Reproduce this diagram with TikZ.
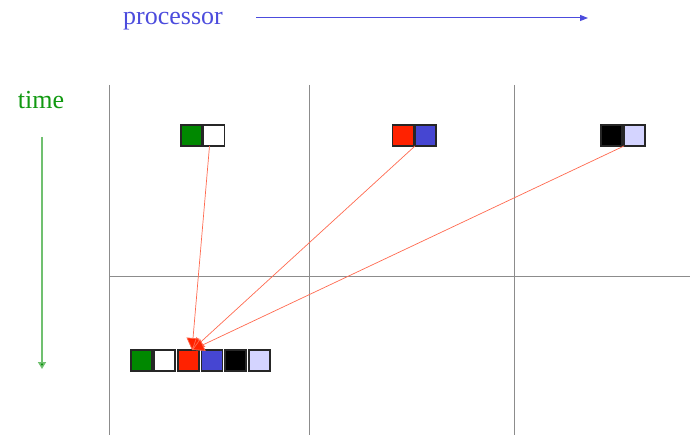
\documentclass[tikz,border=0pt]{standalone}
\usepackage{fontspec}
\setmainfont{Liberation Serif}
\usetikzlibrary{arrows.meta}
\definecolor{cgreen}{HTML}{008800}
\definecolor{cred}{HTML}{FF2200}
\definecolor{cblue}{HTML}{4646D2}
\definecolor{clav}{HTML}{D4D4FF}
\definecolor{pblue}{HTML}{4C4CDD}
\definecolor{tgreen}{HTML}{119911}
\definecolor{lgreen}{HTML}{70C070}
\definecolor{lred}{HTML}{FF6A50}
\tikzset{
  cell/.style={draw=black!85, line width=1.3pt, minimum size=21pt, inner sep=0pt, outer sep=0pt},
  grid/.style={draw=gray!90, line width=0.9pt},
  link/.style={draw=lred, line width=0.7pt, -{Triangle[length=12pt,width=13pt,fill=cred]}},
  lbl/.style={font=\fontsize{26}{30}\selectfont, inner sep=0pt}
}
\begin{document}
\begin{tikzpicture}[x=1pt,y=-1pt]
\useasboundingbox (0,0) rectangle (690,435);
% labels and axes
\node[lbl, text=pblue] (proc) at (173,21) {processor};
\coordinate (pa) at (256,18);
\coordinate (pb) at (588,18);
\draw[pblue, line width=1pt, -{Triangle[length=8pt,width=6pt]}] (pa) -- (pb);
\node[lbl, text=tgreen] (time) at (41,100) {time};
\coordinate (ta) at (42,137);
\coordinate (tb) at (42,369);
\draw[lgreen, line width=1.5pt, -{Triangle[length=7pt,width=8pt,fill=cgreen]}] (ta) -- (tb);
% grid
\coordinate (v1a) at (109,85); \coordinate (v1b) at (109,435);
\coordinate (v2a) at (309,85); \coordinate (v2b) at (309,435);
\coordinate (v3a) at (514,85); \coordinate (v3b) at (514,435);
\coordinate (ha) at (109,276); \coordinate (hb) at (690,276);
\draw[grid] (v1a) -- (v1b);
\draw[grid] (v2a) -- (v2b);
\draw[grid] (v3a) -- (v3b);
\draw[grid] (ha) -- (hb);
% top cells
\node[cell, fill=cgreen] (g1) at (191.5,135.5) {};
\node[cell, fill=white] (w1) at (214,135.5) {};
\node[cell, fill=cred] (r1) at (403,135.5) {};
\node[cell, fill=cblue] (b1) at (425.5,135.5) {};
\node[cell, fill=black] (k1) at (611.5,135.5) {};
\node[cell, fill=clav] (l1) at (634.5,135.5) {};
% bottom cells
\node[cell, fill=cgreen] (g2) at (141.5,360.5) {};
\node[cell, fill=white] (w2) at (164.5,360.5) {};
\node[cell, fill=cred] (r2) at (188.5,360.5) {};
\node[cell, fill=cblue] (b2) at (212,360.5) {};
\node[cell, fill=black] (k2) at (235.5,360.5) {};
\node[cell, fill=clav] (l2) at (259.5,360.5) {};
% links
\coordinate (dst) at (192,350);
\draw[link] (w1.south west) ++(6,0) -- (dst);
\draw[link] (b1.south west) -- (dst);
\draw[link] (l1.south west) -- (dst);
\end{tikzpicture}
\end{document}
